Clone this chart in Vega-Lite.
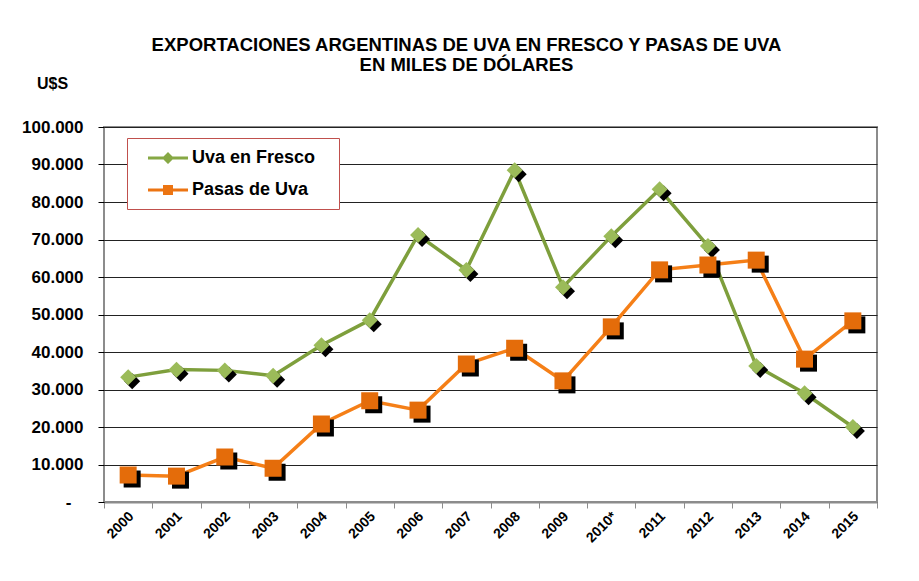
{
  "$schema": "https://vega.github.io/schema/vega-lite/v6.json",
  "width": 773,
  "height": 375,
  "autosize": {"type": "none"},
  "padding": {"left": 104, "top": 127, "right": 42, "bottom": 79},
  "background": "white",
  "config": {"font": "Liberation Sans", "view": {"stroke": "#8c8c8c", "strokeWidth": 2}},
  "title": {
    "text": ["EXPORTACIONES ARGENTINAS DE UVA EN FRESCO Y PASAS DE UVA", "EN MILES DE DÓLARES"],
    "fontSize": 18.5, "fontWeight": "bold", "color": "black", "anchor": "middle", "dx": -24,
    "offset": 1, "lineHeight": 20, "frame": "group"
  },
  "data": {"values": [
    {"year": "2000", "series": "Uva en Fresco", "value": 33300},
    {"year": "2001", "series": "Uva en Fresco", "value": 35300},
    {"year": "2002", "series": "Uva en Fresco", "value": 35100},
    {"year": "2003", "series": "Uva en Fresco", "value": 33700},
    {"year": "2004", "series": "Uva en Fresco", "value": 41800},
    {"year": "2005", "series": "Uva en Fresco", "value": 48500},
    {"year": "2006", "series": "Uva en Fresco", "value": 71200},
    {"year": "2007", "series": "Uva en Fresco", "value": 61900},
    {"year": "2008", "series": "Uva en Fresco", "value": 88500},
    {"year": "2009", "series": "Uva en Fresco", "value": 57300},
    {"year": "2010*", "series": "Uva en Fresco", "value": 70900},
    {"year": "2011", "series": "Uva en Fresco", "value": 83400},
    {"year": "2012", "series": "Uva en Fresco", "value": 68300},
    {"year": "2013", "series": "Uva en Fresco", "value": 36300},
    {"year": "2014", "series": "Uva en Fresco", "value": 29000},
    {"year": "2015", "series": "Uva en Fresco", "value": 20000},
    {"year": "2000", "series": "Pasas de Uva", "value": 7200},
    {"year": "2001", "series": "Pasas de Uva", "value": 6900},
    {"year": "2002", "series": "Pasas de Uva", "value": 12000},
    {"year": "2003", "series": "Pasas de Uva", "value": 9000},
    {"year": "2004", "series": "Pasas de Uva", "value": 20800},
    {"year": "2005", "series": "Pasas de Uva", "value": 27000},
    {"year": "2006", "series": "Pasas de Uva", "value": 24500},
    {"year": "2007", "series": "Pasas de Uva", "value": 36800},
    {"year": "2008", "series": "Pasas de Uva", "value": 41000},
    {"year": "2009", "series": "Pasas de Uva", "value": 32300},
    {"year": "2010*", "series": "Pasas de Uva", "value": 46700},
    {"year": "2011", "series": "Pasas de Uva", "value": 61900},
    {"year": "2012", "series": "Pasas de Uva", "value": 63200},
    {"year": "2013", "series": "Pasas de Uva", "value": 64500},
    {"year": "2014", "series": "Pasas de Uva", "value": 38100},
    {"year": "2015", "series": "Pasas de Uva", "value": 48300}
  ]},
  "encoding": {
    "x": {
      "field": "year", "type": "nominal", "sort": null,
      "scale": {"type": "band", "paddingInner": 0, "paddingOuter": 0},
      "axis": {
        "title": null, "labelAngle": -45, "labelAlign": "right", "labelBaseline": "middle",
        "labelFontSize": 14, "labelFontWeight": "bold", "labelColor": "black",
        "labelPadding": 6, "labelOffset": 3,
        "tickBand": "extent", "tickSize": 6, "tickColor": "#8c8c8c", "tickWidth": 1,
        "domainColor": "#8c8c8c", "domainWidth": 2, "grid": false
      }
    },
    "y": {
      "field": "value", "type": "quantitative",
      "scale": {"domain": [0, 100000], "nice": false},
      "axis": {
        "values": [0, 10000, 20000, 30000, 40000, 50000, 60000, 70000, 80000, 90000, 100000],
        "labelExpr": "datum.value == 0 ? '-\u2800' : replace(format(datum.value, ','), ',', '.')",
        "labelFontSize": 17, "labelFontWeight": "bold", "labelColor": "black",
        "tickColor": "black", "tickSize": 6, "labelPadding": 15, "domain": false,
        "grid": true, "gridColor": "#222222", "gridWidth": 1,
        "title": "U$S", "titleAngle": 0, "titleX": -52, "titleY": -44,
        "titleFontSize": 16, "titleFontWeight": "bold", "titleAlign": "center",
        "titleBaseline": "middle", "titleColor": "black"
      }
    }
  },
  "layer": [
    {
      "transform": [{"filter": "datum.series == 'Uva en Fresco'"}],
      "mark": {"type": "line", "strokeWidth": 3.5},
      "encoding": {
        "color": {
          "field": "series", "type": "nominal",
          "scale": {"domain": ["Uva en Fresco", "Pasas de Uva"], "range": ["#7E9F3C", "#F57F17"]},
          "legend": {
            "orient": "none", "legendX": 23, "legendY": 11, "title": null,
            "strokeColor": "#C0504D", "fillColor": "white", "padding": 10,
            "symbolOffset": 21, "labelOffset": 14, "rowPadding": 13, "symbolSize": 400,
            "labelFontSize": 18, "labelFontWeight": "bold", "labelColor": "black",
            "labelExpr": "datum.label + '\u2800'", "labelLimit": 300,
            "symbolStrokeWidth": 0,
            "encode": {
              "symbols": {
                "update": {
                  "shape": {"signal": "datum.value == 'Uva en Fresco' ? 'M-2,-0.15L2,-0.15L2,0.15L-2,0.15Z M0,-0.6L0.6,0L0,0.6L-0.6,0Z' : 'M-2,-0.15L2,-0.15L2,0.15L-2,0.15Z M-0.5,-0.5L0.5,-0.5L0.5,0.5L-0.5,0.5Z'"},
                  "fill": {"signal": "datum.value == 'Uva en Fresco' ? '#86A844' : '#EC7412'"},
                  "stroke": {"value": "transparent"},
                  "opacity": {"value": 1},
                  "fillOpacity": {"value": 1}
                }
              }
            }
          }
        }
      }
    },
    {
      "transform": [{"filter": "datum.series == 'Uva en Fresco'"}],
      "mark": {"type": "point", "shape": "diamond", "size": 256, "filled": true, "color": "black", "opacity": 1, "xOffset": 4, "yOffset": 4}
    },
    {
      "transform": [{"filter": "datum.series == 'Uva en Fresco'"}],
      "mark": {"type": "point", "shape": "diamond", "size": 256, "filled": true, "color": "#9BBB59", "opacity": 1}
    },
    {
      "transform": [{"filter": "datum.series == 'Pasas de Uva'"}],
      "mark": {"type": "line", "strokeWidth": 3.5},
      "encoding": {"color": {"field": "series", "type": "nominal"}}
    },
    {
      "transform": [{"filter": "datum.series == 'Pasas de Uva'"}],
      "mark": {"type": "point", "shape": "square", "size": 289, "filled": true, "color": "black", "opacity": 1, "xOffset": 4, "yOffset": 4}
    },
    {
      "transform": [{"filter": "datum.series == 'Pasas de Uva'"}],
      "mark": {"type": "point", "shape": "square", "size": 289, "filled": true, "color": "#E46C0A", "opacity": 1}
    }
  ]
}
